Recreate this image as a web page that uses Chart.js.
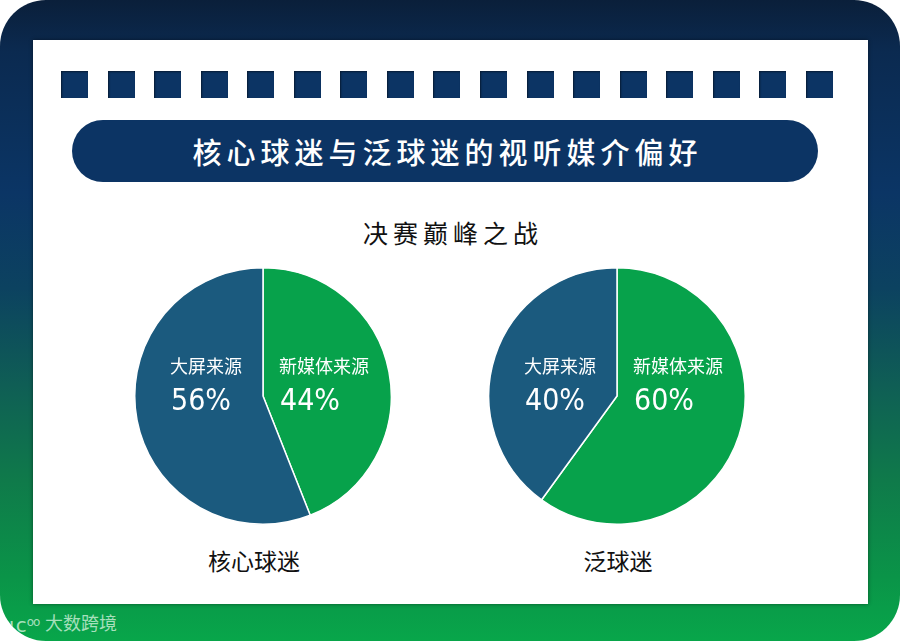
<!DOCTYPE html>
<html>
<head>
<meta charset="utf-8">
<script src="https://cdn.jsdelivr.net/npm/chart.js@4"></script>
<style>
  html, body { margin: 0; padding: 0; background: #fff; }
  #frame {
    position: relative; width: 900px; height: 641px; border-radius: 46px; overflow: hidden;
    background: linear-gradient(to bottom, #0a1f3a 0%, #0b2a50 8%, #0b3565 30%, #0c4260 45%,
                #0f5e55 60%, #0f7a4a 75%, #0a9448 90%, #08a64a 100%);
    font-family: "Noto Sans CJK SC", sans-serif;
  }
  #panel {
    position: absolute; left: 33px; top: 40px; width: 835px; height: 564px; background: #fff;
    box-shadow: 0 0 4px rgba(0,0,0,0.45);
  }
  .sq {
    position: absolute; top: 31px; width: 27px; height: 27px; background: #0c3464;
    box-shadow: inset 1px 1px 2px rgba(0,0,0,0.5);
  }
  #title {
    position: absolute; left: 39px; top: 80px; width: 746px; height: 62px; border-radius: 31px;
    background: #0c3464; color: #fff; font-size: 29px; font-weight: 500; letter-spacing: 5px;
    text-align: center; line-height: 62px; text-indent: 5px;
  }
  #sub {
    position: absolute; left: 0; width: 835px; top: 172px; text-align: center;
    font-size: 25px; letter-spacing: 5px; text-indent: 5px; color: #111; line-height: 40px;
  }
  .cat {
    position: absolute; top: 500px; width: 200px; text-align: center; font-size: 23px;
    color: #111; line-height: 40px;
  }
  .pie { position: absolute; width: 258px; height: 258px; }
  #logo {
    position: absolute; left: 9px; top: 608px; color: rgba(220,245,225,0.75);
    font-family: "DejaVu Sans", sans-serif; font-size: 20px; line-height: 28px; white-space: nowrap;
  }
  #logo sup { font-size: 12px; vertical-align: 6px; letter-spacing: -1px; }
  #wm {
    position: absolute; left: 45px; top: 608px; color: rgba(220,245,225,0.75); font-size: 18px;
    line-height: 28px; white-space: nowrap;
  }
</style>
</head>
<body>
<div id="frame">
  <div id="panel">
    <div id="title">核心球迷与泛球迷的视听媒介偏好</div>
    <div id="sub">决赛巅峰之战</div>
    <div class="cat" style="left:121px">核心球迷</div>
    <div class="cat" style="left:485px">泛球迷</div>
  </div>
  <canvas id="pie1" class="pie" style="left:134px; top:267px"></canvas>
  <canvas id="pie2" class="pie" style="left:488px; top:267px"></canvas>
  <div id="logo">ιc<sup>oo</sup></div>
  <div id="wm">大数跨境</div>
</div>
<script>
// Data
const groups = ['核心球迷', '泛球迷'];
const sources = ['新媒体来源', '大屏来源'];
const coreFans = [44, 56];
const casualFans = [60, 40];
const sliceColors = ['#07a24b', '#1b5a7e'];

// Squares along the top of the panel
const panel = document.getElementById('panel');
for (let i = 0; i < 17; i++) {
    const s = document.createElement('div');
    s.className = 'sq';
    s.style.left = (28 + i * 46.56) + 'px';
    panel.appendChild(s);
}

// Draw the two text lines inside each slice.
const sliceLabels = {
    id: 'sliceLabels',
    afterDatasetsDraw(chart) {
        const ctx = chart.ctx;
        const arc = chart.getDatasetMeta(0).data[0];
        const cx = arc.x, cy = arc.y;
        const values = chart.data.datasets[0].data;
        const total = values.reduce((a, b) => a + b, 0);
        // left column: 大屏来源, right column: 新媒体来源
        const spots = [{ i: 1, x: cx - 93 }, { i: 0, x: cx + 16 }];
        ctx.save();
        ctx.fillStyle = '#fff';
        ctx.textAlign = 'left';
        ctx.textBaseline = 'middle';
        spots.forEach(p => {
            ctx.font = '18px "Noto Sans CJK SC"';
            ctx.fillText(chart.data.labels[p.i], p.x, cy - 30);
            ctx.font = '30px "DejaVu Sans Condensed", "DejaVu Sans"';
            ctx.fillText(Math.round(values[p.i] / total * 100) + '%', p.x + 1, cy + 6);
        });
        ctx.restore();
    }
};

function pieChart(canvas, values) {
    return new Chart(canvas, {
        type: 'pie',
        data: {
            labels: sources,
            datasets: [{
                data: values,
                backgroundColor: sliceColors,
                borderColor: '#ffffff',
                borderWidth: 1.5,
                hoverOffset: 0
            }]
        },
        options: {
            responsive: false,
            animation: false,
            layout: { padding: 0 },
            plugins: {
                legend: { display: false },
                tooltip: { enabled: false }
            }
        },
        plugins: [sliceLabels]
    });
}

document.fonts.load('18px "Noto Sans CJK SC"').then(() => {
    pieChart(document.getElementById('pie1'), coreFans);
    pieChart(document.getElementById('pie2'), casualFans);
});
</script>
</body>
</html>
